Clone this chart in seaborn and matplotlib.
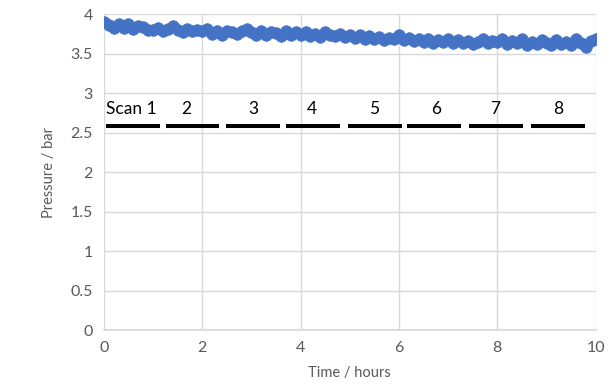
import numpy as np
import pandas as pd
import matplotlib
matplotlib.use("Agg")
import matplotlib.pyplot as plt
import seaborn as sns

# ---- data ----
time_h = [round(0.1 * i, 1) for i in range(101)]
pressure = [
    3.90, 3.86, 3.83, 3.88, 3.82, 3.87, 3.81, 3.85, 3.84, 3.80,
    3.80, 3.83, 3.78, 3.81, 3.85, 3.80, 3.77, 3.81, 3.78, 3.80,
    3.78, 3.81, 3.75, 3.78, 3.74, 3.79, 3.77, 3.75, 3.78, 3.81,
    3.77, 3.74, 3.79, 3.73, 3.77, 3.76, 3.72, 3.78, 3.74, 3.77,
    3.73, 3.77, 3.72, 3.75, 3.71, 3.77, 3.74, 3.72, 3.75, 3.71,
    3.74, 3.70, 3.73, 3.69, 3.72, 3.68, 3.71, 3.67, 3.70, 3.68,
    3.73, 3.67, 3.70, 3.66, 3.69, 3.65, 3.68, 3.64, 3.67, 3.65,
    3.68, 3.64, 3.67, 3.63, 3.66, 3.62, 3.65, 3.68, 3.63, 3.66,
    3.65, 3.68, 3.62, 3.66, 3.63, 3.68, 3.61, 3.65, 3.62, 3.67,
    3.64, 3.61, 3.67, 3.62, 3.65, 3.61, 3.68, 3.64, 3.58, 3.66,
    3.69,
]
scan_labels = ["Scan 1", "2", "3", "4", "5", "6", "7", "8"]
scan_start = [0.04, 1.26, 2.49, 3.71, 4.97, 6.17, 7.42, 8.68]
scan_end = [1.15, 2.34, 3.58, 4.80, 6.07, 7.27, 8.52, 9.79]
scan_label_x = [0.04, 1.68, 3.03, 4.22, 5.50, 6.76, 7.95, 9.23]
scan_bar_y = 2.58
scan_label_y = 2.80

df = pd.DataFrame({"Time": time_h, "Pressure": pressure})

sns.set_theme(style="whitegrid")
plt.rcParams["font.family"] = ["Lato", "DejaVu Sans"]

fig = plt.figure(figsize=(6.11, 3.92), dpi=100)
ax = fig.add_axes([0.170, 0.158, 0.805, 0.806])

sns.scatterplot(data=df, x="Time", y="Pressure", ax=ax, color="#4472C4",
                s=70, edgecolor="#4472C4", linewidth=0.5, zorder=3)

for x0, x1 in zip(scan_start, scan_end):
    ax.plot([x0, x1], [scan_bar_y, scan_bar_y], color="black", lw=2.9,
            solid_capstyle="butt", zorder=4)
for i, (lab, lx) in enumerate(zip(scan_labels, scan_label_x)):
    ax.text(lx, scan_label_y, lab, ha="left" if i == 0 else "center",
            va="center", fontsize=12.5, color="black", zorder=5)

ax.set_xlim(0, 10)
ax.set_ylim(0, 4)
ax.set_xticks([0, 2, 4, 6, 8, 10])
ax.set_yticks([0, 0.5, 1, 1.5, 2, 2.5, 3, 3.5, 4])
ax.set_yticklabels(["0", "0.5", "1", "1.5", "2", "2.5", "3", "3.5", "4"])
ax.grid(True, color="#D9D9D9", lw=1.0)
for s in ax.spines.values():
    s.set_visible(False)
ax.spines["bottom"].set_visible(True)
ax.spines["bottom"].set_color("#D9D9D9")
ax.tick_params(axis="both", length=0, labelsize=11.5, colors="#595959", pad=8)
ax.set_xlabel("Time / hours", fontsize=10.5, color="#595959", labelpad=8)
ax.set_ylabel("Pressure / bar", fontsize=10.5, color="#595959", labelpad=10)

fig.savefig("out.png", dpi=100)
